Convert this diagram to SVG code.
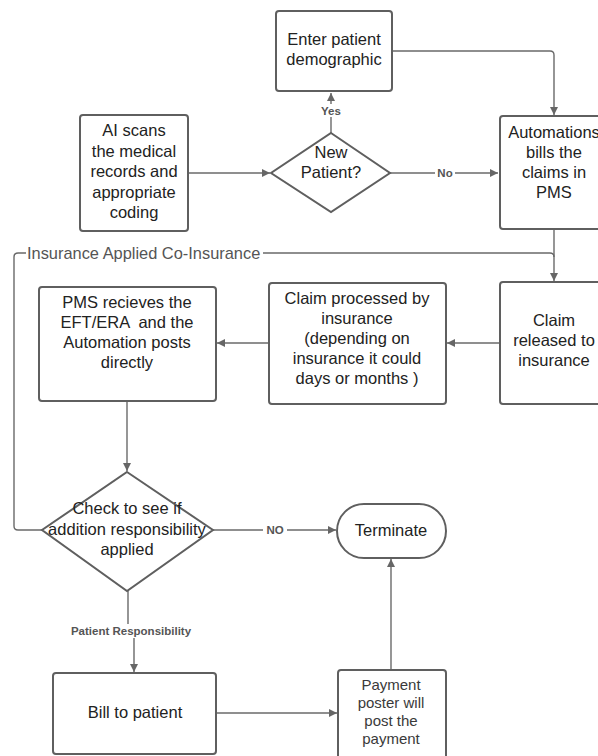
<svg xmlns="http://www.w3.org/2000/svg" width="598" height="756" viewBox="0 0 598 756">
<style>
.box{fill:#fff;stroke:#5f5f5f;stroke-width:2}
.t{font-family:"Liberation Sans",Arial,sans-serif;font-size:16.5px;fill:#222;text-anchor:middle;white-space:pre}
.ts{font-family:"Liberation Sans",Arial,sans-serif;font-size:15px;fill:#3a3a3a;text-anchor:middle}
.c{fill:none;stroke:#6a6a6a;stroke-width:1.4}
.lb{font-family:"Liberation Sans",Arial,sans-serif;font-size:11.5px;font-weight:bold;fill:#555;text-anchor:middle}
.ll{font-family:"Liberation Sans",Arial,sans-serif;font-size:16.4px;fill:#555}
</style>
<defs>
<marker id="ah" viewBox="0 0 10 10" refX="10" refY="5" markerWidth="10" markerHeight="8" markerUnits="userSpaceOnUse" orient="auto">
<path d="M0,0 L10,5 L0,10 z" fill="#666"/>
</marker>
</defs>
<rect width="598" height="756" fill="#fff"/>
<g id="connectors">
<path class="c" d="M188,173 H270" marker-end="url(#ah)"/>
<path class="c" d="M331,133 V93" marker-end="url(#ah)"/>
<path class="c" d="M390,173 H498" marker-end="url(#ah)"/>
<path class="c" d="M392,51 H550 Q554,51 554,55 V115" marker-end="url(#ah)"/>
<path class="c" d="M554,230 V281" marker-end="url(#ah)"/>
<path class="c" d="M42,530 H18 Q14,530 14,526 V257 Q14,253 18,253 H550 Q554,253 554,257"/>
<path class="c" d="M500,343 H447" marker-end="url(#ah)"/>
<path class="c" d="M268,343 H217" marker-end="url(#ah)"/>
<path class="c" d="M127,401 V471" marker-end="url(#ah)"/>
<path class="c" d="M213,530 H336" marker-end="url(#ah)"/>
<path class="c" d="M128,591 V631 H134 V672" marker-end="url(#ah)"/>
<path class="c" d="M216,713 H337" marker-end="url(#ah)"/>
<path class="c" d="M391,670 V559" marker-end="url(#ah)"/>
<rect x="323" y="104" width="17" height="13" fill="#fff"/>
<text class="lb" x="331" y="115">Yes</text>
<rect x="435" y="167" width="20" height="13" fill="#fff"/>
<text class="lb" x="445" y="177">No</text>
<rect x="263" y="524" width="24" height="13" fill="#fff"/>
<text class="lb" x="275" y="534">NO</text>
<rect x="64" y="624" width="134" height="14" fill="#fff"/>
<text class="lb" x="131" y="635">Patient Responsibility</text>
<rect x="26" y="244" width="237" height="18" fill="#fff"/>
<text class="ll" x="27" y="259">Insurance Applied Co-Insurance</text>
</g>
<g id="enter">
<rect class="box" x="276" y="11" width="116" height="80" rx="3"/>
<text class="t" x="334" y="45">Enter patient</text>
<text class="t" x="334" y="65">demographic</text>
</g>
<g id="ai">
<rect class="box" x="80" y="115" width="108" height="116" rx="3"/>
<text class="t" x="134" y="136">AI scans</text>
<text class="t" x="134" y="157">the medical</text>
<text class="t" x="134" y="177">records and</text>
<text class="t" x="134" y="198">appropriate</text>
<text class="t" x="134" y="218">coding</text>
</g>
<g id="newpatient">
<path class="box" d="M331,133 L390,173 L331,212 L271,173 Z"/>
<text class="t" x="331" y="158">New</text>
<text class="t" x="331" y="178">Patient?</text>
</g>
<g id="automations">
<rect class="box" x="500" y="116" width="110" height="113" rx="3"/>
<text class="t" x="554" y="138">Automations</text>
<text class="t" x="554" y="158">bills the</text>
<text class="t" x="554" y="178">claims in</text>
<text class="t" x="554" y="198">PMS</text>
</g>
<g id="released">
<rect class="box" x="500" y="282" width="110" height="122" rx="3"/>
<text class="t" x="554" y="326">Claim</text>
<text class="t" x="554" y="346">released to</text>
<text class="t" x="554" y="366">insurance</text>
</g>
<g id="processed">
<rect class="box" x="269" y="283" width="177" height="121" rx="3"/>
<text class="t" x="357" y="304">Claim processed by</text>
<text class="t" x="357" y="324">insurance</text>
<text class="t" x="357" y="344">(depending on</text>
<text class="t" x="357" y="364">insurance it could</text>
<text class="t" x="357" y="384">days or months )</text>
</g>
<g id="pms">
<rect class="box" x="39" y="287" width="177" height="114" rx="3"/>
<text class="t" x="127" y="308">PMS recieves the</text>
<text class="t" x="127" y="328" xml:space="preserve">EFT/ERA  and the</text>
<text class="t" x="127" y="348">Automation posts</text>
<text class="t" x="127" y="368">directly</text>
</g>
<g id="check">
<path class="box" d="M127,472 L213,530 L127,591 L42,530 Z"/>
<text class="t" x="127" y="514">Check to see if</text>
<text class="t" x="127" y="535">addition responsibility</text>
<text class="t" x="127" y="555">applied</text>
</g>
<g id="terminate">
<rect class="box" x="337" y="504" width="109" height="54" rx="27"/>
<text class="t" x="391" y="536">Terminate</text>
</g>
<g id="bill">
<rect class="box" x="53" y="673" width="163" height="81" rx="3"/>
<text class="t" x="135" y="718">Bill to patient</text>
</g>
<g id="payment">
<rect class="box" x="338" y="670" width="108" height="90" rx="3"/>
<text class="ts" x="391" y="690">Payment</text>
<text class="ts" x="391" y="708">poster will</text>
<text class="ts" x="391" y="726">post the</text>
<text class="ts" x="391" y="744">payment</text>
</g>
</svg>
